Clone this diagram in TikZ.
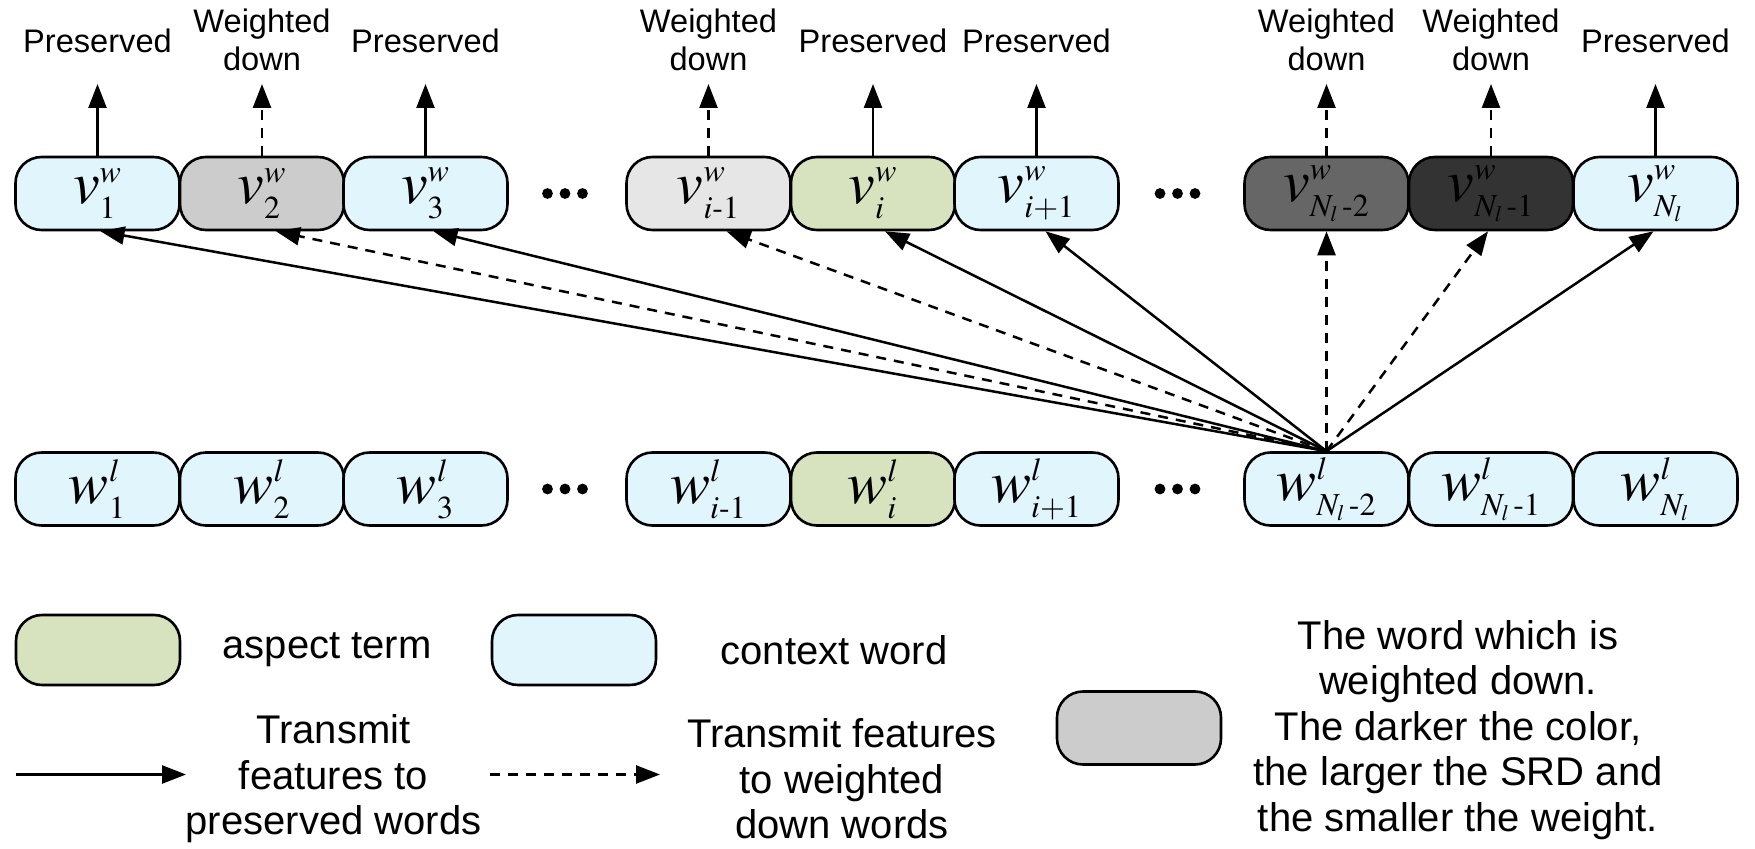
\documentclass[tikz,border=0pt]{standalone}
\usepackage{mathptmx}
\usepackage[no-math]{fontspec}
\setmainfont{Liberation Sans}
\usetikzlibrary{arrows.meta}
\DeclareMathSizes{30}{30}{16}{11}
\newcommand\hy{\mathchar"002D\relax}
\definecolor{ctxblue}{HTML}{E1F5FD}
\definecolor{aspgreen}{HTML}{D6E3BE}
\definecolor{grayA}{HTML}{CCCCCC}
\definecolor{grayB}{HTML}{E6E6E6}
\definecolor{grayC}{HTML}{666666}
\definecolor{grayD}{HTML}{333333}
\begin{document}
\begin{tikzpicture}[x=0.5pt,y=-0.5pt,
  box/.style={draw=black,line width=1.3pt,rounded corners=13pt,minimum width=82pt,minimum height=36.5pt,inner sep=0pt,font=\fontsize{30}{34}\selectfont},
  ctx/.style={box,fill=ctxblue},
  asp/.style={box,fill=aspgreen},
  lbl/.style={align=center,font=\fontsize{16.3}{19}\selectfont,inner sep=0pt},
  leg/.style={align=center,font=\fontsize{20}{22.7}\selectfont,inner sep=0pt},
  sarr/.style={line width=1.25pt,-{Triangle[length=12pt,width=9pt]}},
  darr/.style={sarr,dash pattern=on 5pt off 4pt},
  dotc/.style={circle,fill=black,inner sep=0pt,minimum size=5.4pt},
]
\useasboundingbox (0,0) rectangle (1755,849);

% top row
\node[ctx] (v1) at (97.5,193.5) {$v^{w}_{1}$};
\node[box,fill=grayA] (v2) at (262,193.5) {$v^{w}_{2}$};
\node[ctx] (v3) at (425.5,193.5) {$v^{w}_{3}$};
\node[box,fill=grayB] (v4) at (708.5,193.5) {$v^{w}_{i\hy 1}$};
\node[asp] (v5) at (873,193.5) {$v^{w}_{i}$};
\node[ctx] (v6) at (1036.5,193.5) {$v^{w}_{i+1}$};
\node[box,fill=grayC] (v7) at (1326.5,193.5) {$v^{w}_{N_l\,\hy 2}$};
\node[box,fill=grayD] (v8) at (1491,193.5) {$v^{w}_{N_l\,\hy 1}$};
\node[ctx] (v9) at (1655.5,193.5) {$v^{w}_{N_l}$};

% bottom row
\node[ctx] (w1) at (97.5,489) {$w^{l}_{1}$};
\node[ctx] (w2) at (262,489) {$w^{l}_{2}$};
\node[ctx] (w3) at (425.5,489) {$w^{l}_{3}$};
\node[ctx] (w4) at (708.5,489) {$w^{l}_{i\hy 1}$};
\node[asp] (w5) at (873,489) {$w^{l}_{i}$};
\node[ctx] (w6) at (1036.5,489) {$w^{l}_{i+1}$};
\node[ctx] (w7) at (1326.5,489) {$w^{l}_{N_l\,\hy 2}$};
\node[ctx] (w8) at (1491,489) {$w^{l}_{N_l\,\hy 1}$};
\node[ctx] (w9) at (1655.5,489) {$w^{l}_{N_l}$};

% ellipsis dots
\foreach \cx/\nm in {565/a,1177.5/b}{
  \node[dotc] (d\nm1) at (\cx-17.5,193.5) {};
  \node[dotc] (d\nm2) at (\cx,193.5) {};
  \node[dotc] (d\nm3) at (\cx+17.5,193.5) {};
  \node[dotc] (e\nm1) at (\cx-17.5,489) {};
  \node[dotc] (e\nm2) at (\cx,489) {};
  \node[dotc] (e\nm3) at (\cx+17.5,489) {};
}

% top labels
\node[lbl] (t1) at (97.5,41) {Preserved};
\node[lbl] (t2) at (262,40) {Weighted\\down};
\node[lbl] (t3) at (425.5,41) {Preserved};
\node[lbl] (t4) at (708.5,40) {Weighted\\down};
\node[lbl] (t5) at (873,41) {Preserved};
\node[lbl] (t6) at (1036.5,41) {Preserved};
\node[lbl] (t7) at (1326.5,40) {Weighted\\down};
\node[lbl] (t8) at (1491,40) {Weighted\\down};
\node[lbl] (t9) at (1655.5,41) {Preserved};

% upward output arrows
\foreach \i/\cx in {1/97.5,2/262,3/425.5,4/708.5,5/873,6/1036.5,7/1326.5,8/1491,9/1655.5}{
  \coordinate (u\i) at (\cx,84);
}
\draw[sarr] (v1.north) -- (u1);
\draw[darr] (v2.north) -- (u2);
\draw[sarr] (v3.north) -- (u3);
\draw[darr] (v4.north) -- (u4);
\draw[sarr] (v5.north) -- (u5);
\draw[sarr] (v6.north) -- (u6);
\draw[darr] (v7.north) -- (u7);
\draw[darr] (v8.north) -- (u8);
\draw[sarr] (v9.north) -- (u9);

% fan of arrows from w_{N_l-2}
\draw[sarr] (w7.north) -- ([xshift=1.5pt]v1.south);
\draw[darr] (w7.north) -- ([xshift=7pt]v2.south);
\draw[sarr] (w7.north) -- ([xshift=4pt]v3.south);
\draw[darr] (w7.north) -- ([xshift=9pt]v4.south);
\draw[sarr] (w7.north) -- ([xshift=6pt]v5.south);
\draw[sarr] (w7.north) -- ([xshift=4.5pt]v6.south);
\draw[darr] (w7.north) -- (v7.south);
\draw[darr] (w7.north) -- ([xshift=-1.5pt]v8.south);
\draw[sarr] (w7.north) -- ([xshift=-1pt]v9.south);

% legend
\node[asp,minimum height=35pt] (la) at (98,650) {};
\node[leg] (lat) at (327,650) {aspect term};
\node[ctx,minimum height=35pt] (lc) at (574,650) {};
\node[leg] (lct) at (834,650) {context word};
\node[box,fill=grayA] (lg) at (1139,728) {};
\node[leg] (lgt) at (1458,730) {The word which is\\weighted down.\\The darker the color,\\the larger the SRD and\\the smaller the weight.};

\coordinate (ls1) at (15.7,774.5);
\coordinate (ls2) at (186,774.5);
\draw[sarr] (ls1) -- (ls2);
\node[leg] (lst) at (333.5,779) {Transmit\\features to\\preserved words};
\coordinate (ld1) at (490,774.5);
\coordinate (ld2) at (660,774.5);
\draw[darr] (ld1) -- (ld2);
\node[leg] (ldt) at (842,779) {Transmit features\\to weighted\\down words};
\end{tikzpicture}
\end{document}
